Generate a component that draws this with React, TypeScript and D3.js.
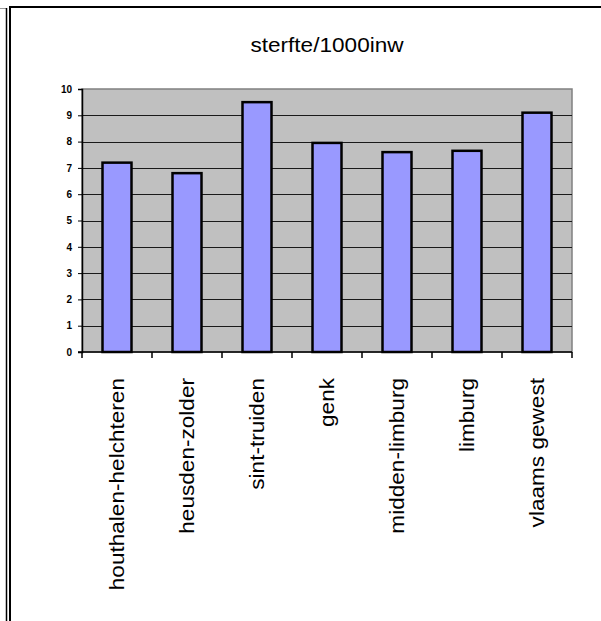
import React, { useEffect, useRef } from "react";
import * as d3 from "d3";

const categories: string[] = [
  "houthalen-helchteren",
  "heusden-zolder",
  "sint-truiden",
  "genk",
  "midden-limburg",
  "limburg",
  "vlaams gewest",
];
const values: number[] = [7.2, 6.8, 9.5, 7.95, 7.6, 7.65, 9.1];
const yTicks: number[] = [0, 1, 2, 3, 4, 5, 6, 7, 8, 9, 10];
const title = "sterfte/1000inw";

const W = 601;
const H = 621;
const plot = { left: 82, right: 572, top: 89, bottom: 352 };

export default function App() {
  const ref = useRef<SVGSVGElement | null>(null);

  useEffect(() => {
    const svg = d3.select(ref.current);
    svg.selectAll("*").remove();

    // frame lines
    svg.append("line").attr("x1", 0).attr("x2", 6).attr("y1", 8.5).attr("y2", 8.5)
      .attr("stroke", "#9a9a9a").attr("stroke-width", 1);
    svg.append("line").attr("x1", 6.5).attr("x2", 6.5).attr("y1", 8).attr("y2", H)
      .attr("stroke", "#000").attr("stroke-width", 1.5);
    svg.append("line").attr("x1", 10).attr("x2", 10).attr("y1", 6).attr("y2", H)
      .attr("stroke", "#000").attr("stroke-width", 2);
    svg.append("line").attr("x1", 9).attr("x2", W).attr("y1", 7).attr("y2", 7)
      .attr("stroke", "#000").attr("stroke-width", 2);

    const xb = d3.scaleBand<string>().domain(categories).range([plot.left, plot.right]);
    const y = d3.scaleLinear().domain([0, 10]).range([plot.bottom, plot.top]);

    // plot area
    svg.append("rect")
      .attr("x", plot.left).attr("y", plot.top)
      .attr("width", plot.right - plot.left).attr("height", plot.bottom - plot.top)
      .attr("fill", "#c0c0c0").attr("stroke", "#808080").attr("stroke-width", 1.5);

    // gridlines
    svg.append("g").selectAll("line").data(yTicks.filter((t) => t > 0 && t < 10)).join("line")
      .attr("x1", plot.left).attr("x2", plot.right)
      .attr("y1", (d) => Math.round(y(d)) + 0.5).attr("y2", (d) => Math.round(y(d)) + 0.5)
      .attr("stroke", "#1a1a1a").attr("stroke-width", 1);

    // bars
    svg.append("g").selectAll("rect").data(values).join("rect")
      .attr("x", (_d, i) => xb(categories[i])! + xb.bandwidth() / 2 - 14.5)
      .attr("width", 29)
      .attr("y", (d) => y(d))
      .attr("height", (d) => plot.bottom - y(d))
      .attr("fill", "#9999ff").attr("stroke", "#000").attr("stroke-width", 2.5);

    // y axis
    const yAxis = d3.axisLeft(y).tickValues(yTicks).tickSize(4).tickPadding(6).tickFormat(d3.format("d"));
    const gy = svg.append("g").attr("transform", `translate(${plot.left},0)`).call(yAxis);
    gy.select(".domain").attr("stroke", "#000").attr("stroke-width", 1.5);
    gy.selectAll(".tick line").attr("stroke", "#000");
    gy.selectAll(".tick text").attr("font-family", "Liberation Sans, Arial, sans-serif")
      .attr("font-size", 10).attr("font-weight", "bold").attr("fill", "#000");

    // x axis baseline and ticks
    svg.append("line").attr("x1", plot.left - 4).attr("x2", plot.right)
      .attr("y1", plot.bottom).attr("y2", plot.bottom).attr("stroke", "#000").attr("stroke-width", 1.5);
    const bounds = categories.map((c) => xb(c)! + xb.bandwidth());
    bounds.unshift(plot.left);
    svg.append("g").selectAll("line").data(bounds).join("line")
      .attr("x1", (d) => d).attr("x2", (d) => d)
      .attr("y1", plot.bottom).attr("y2", plot.bottom + 6)
      .attr("stroke", "#000").attr("stroke-width", 1.5);

    // x labels
    svg.append("g").selectAll("text").data(categories).join("text")
      .attr("transform", (d) => `translate(${xb(d)! + xb.bandwidth() / 2 + 7},${plot.bottom + 26}) rotate(-90) scale(1.13,1)`)
      .attr("text-anchor", "end")
      .attr("font-family", "Liberation Sans, Arial, sans-serif")
      .attr("font-size", 20)
      .attr("fill", "#000")
      .text((d) => d);

    // title
    svg.append("text")
      .attr("transform", `translate(${(plot.left + plot.right) / 2},52) scale(1.13,1)`)
      .attr("text-anchor", "middle")
      .attr("font-family", "Liberation Sans, Arial, sans-serif")
      .attr("font-size", 20)
      .attr("fill", "#000")
      .text(title);
  }, []);

  return (
    <svg
      ref={ref}
      width={W}
      height={H}
      style={{ position: "absolute", left: 0, top: 0, background: "#fff" }}
    />
  );
}
